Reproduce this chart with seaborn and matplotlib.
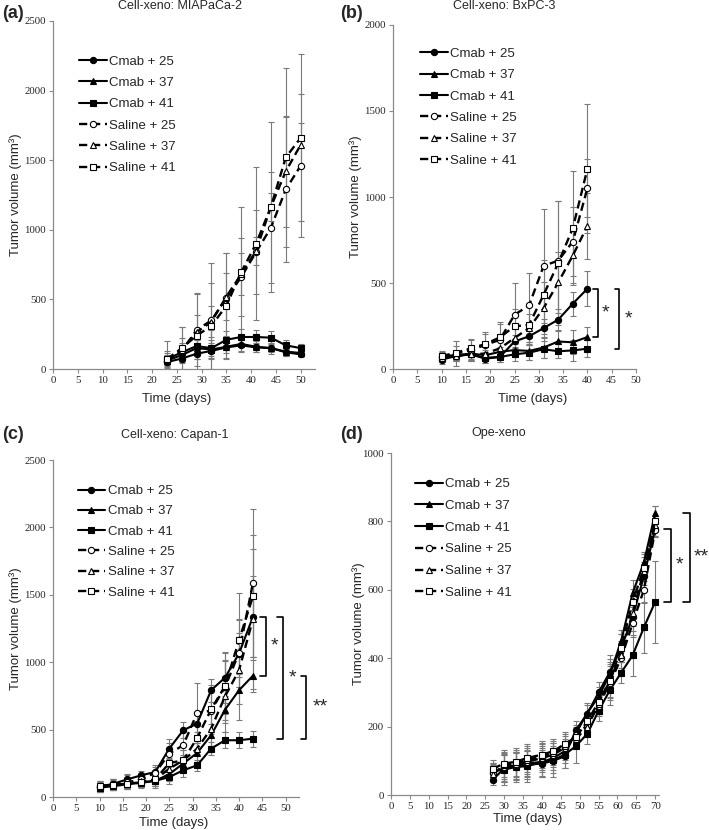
import matplotlib
matplotlib.use("Agg")
import matplotlib.pyplot as plt
import seaborn as sns

# -------------------------------------------------------
# Data
# -------------------------------------------------------
series_names = ["Cmab + 25", "Cmab + 37", "Cmab + 41",
                "Saline + 25", "Saline + 37", "Saline + 41"]

# (a) Cell-xeno: MIAPaCa-2
a_days = [23, 26, 29, 32, 35, 38, 41, 44, 47, 50]
a_cmab25 = [50, 75, 110, 130, 155, 170, 155, 150, 120, 105]
a_cmab37 = [60, 100, 150, 140, 160, 180, 160, 150, 125, 115]
a_cmab41 = [70, 120, 165, 150, 210, 230, 230, 225, 170, 150]
a_sal25 = [60, 130, 280, 350, 510, 660, 840, 1015, 1290, 1460]
a_sal37 = [65, 140, 265, 340, 520, 680, 850, 1165, 1420, 1610]
a_sal41 = [70, 150, 240, 310, 455, 695, 900, 1165, 1520, 1660]
a_cmab25_sd = [20, 30, 40, 60, 40, 40, 30, 30, 25, 20]
a_cmab37_sd = [25, 40, 60, 140, 80, 60, 40, 40, 30, 25]
a_cmab41_sd = [130, 70, 90, 60, 60, 60, 50, 50, 40, 30]
a_sal25_sd = [40, 170, 260, 270, 320, 280, 300, 400, 520, 515]
a_sal37_sd = [50, 80, 120, 110, 170, 150, 100, 100, 400, 155]
a_sal41_sd = [60, 150, 305, 450, 380, 470, 550, 610, 640, 600]

# (b) Cell-xeno: BxPC-3
b_days = [10, 13, 16, 19, 22, 25, 28, 31, 34, 37, 40]
b_cmab25 = [55, 75, 85, 60, 70, 160, 190, 238, 287, 380, 467]
b_cmab37 = [70, 80, 90, 80, 100, 110, 105, 125, 160, 155, 186]
b_cmab41 = [75, 80, 85, 65, 70, 85, 95, 115, 103, 108, 118]
b_sal25 = [70, 90, 110, 140, 170, 315, 370, 600, 630, 741, 1051]
b_sal37 = [65, 75, 85, 90, 120, 180, 238, 354, 503, 660, 832]
b_sal41 = [75, 95, 120, 145, 184, 248, 257, 432, 616, 819, 1164]
b_cmab25_sd = [25, 30, 30, 25, 30, 40, 45, 55, 60, 70, 100]
b_cmab37_sd = [20, 25, 30, 30, 30, 40, 50, 60, 60, 70, 60]
b_cmab41_sd = [20, 25, 30, 30, 30, 40, 45, 50, 40, 60, 50]
b_sal25_sd = [30, 75, 65, 75, 105, 185, 190, 330, 345, 200, 170]
b_sal37_sd = [20, 30, 40, 40, 60, 70, 80, 150, 180, 160, 190]
b_sal41_sd = [30, 40, 50, 60, 80, 100, 120, 200, 360, 330, 375]

# (c) Cell-xeno: Capan-1
c_days = [10, 13, 16, 19, 22, 25, 28, 31, 34, 37, 40, 43]
c_cmab25 = [74, 99, 131, 161, 186, 359, 495, 545, 792, 886, 1064, 1337]
c_cmab37 = [80, 90, 100, 110, 120, 170, 248, 327, 458, 648, 792, 900]
c_cmab41 = [70, 80, 95, 105, 120, 148, 198, 235, 359, 421, 421, 433]
c_sal25 = [80, 95, 110, 130, 180, 322, 384, 624, 640, 817, 1069, 1589]
c_sal37 = [75, 90, 100, 115, 130, 210, 272, 359, 507, 747, 940, 1320]
c_sal41 = [80, 90, 100, 110, 130, 252, 272, 438, 650, 824, 1163, 1490]
c_cmab25_sd = [30, 30, 40, 35, 40, 70, 60, 60, 85, 185, 150, 300]
c_cmab37_sd = [30, 30, 30, 30, 35, 50, 60, 70, 80, 100, 100, 120]
c_cmab41_sd = [30, 30, 30, 30, 40, 50, 50, 40, 50, 60, 60, 60]
c_sal25_sd = [40, 40, 50, 40, 60, 80, 100, 220, 150, 200, 250, 550]
c_sal37_sd = [30, 40, 40, 40, 50, 70, 80, 100, 150, 265, 370, 520]
c_sal41_sd = [40, 40, 40, 40, 60, 70, 80, 120, 180, 250, 350, 450]

# (d) Ope-xeno
d_days = [27, 30, 33, 36, 40, 43, 46, 49, 52, 55, 58, 61, 64, 67, 70]
d_cmab25 = [45, 78, 83, 88, 92, 100, 113, 190, 238, 300, 360, 430, 520, 640, 778]
d_cmab37 = [70, 77, 87, 92, 97, 108, 128, 180, 240, 287, 354, 451, 590, 680, 825]
d_cmab41 = [70, 74, 82, 84, 97, 102, 118, 143, 179, 246, 307, 358, 408, 490, 565]
d_sal25 = [65, 82, 87, 97, 108, 118, 138, 174, 205, 261, 328, 400, 502, 600, 775]
d_sal37 = [62, 87, 92, 102, 113, 123, 143, 164, 200, 266, 338, 410, 533, 655, 790]
d_sal41 = [77, 92, 97, 108, 118, 128, 149, 169, 215, 272, 333, 430, 563, 665, 800]
d_cmab25_sd = [15, 40, 40, 40, 40, 35, 35, 25, 25, 30, 50, 40, 40, 40, 20]
d_cmab37_sd = [25, 40, 40, 40, 40, 35, 35, 25, 30, 30, 45, 30, 40, 30, 20]
d_cmab41_sd = [25, 45, 45, 45, 45, 50, 40, 50, 30, 30, 45, 30, 60, 75, 120]
d_sal25_sd = [25, 40, 40, 40, 40, 35, 35, 25, 25, 30, 50, 40, 40, 40, 20]
d_sal37_sd = [25, 40, 40, 40, 40, 35, 35, 25, 25, 30, 50, 40, 40, 40, 20]
d_sal41_sd = [25, 40, 40, 40, 40, 35, 35, 25, 25, 30, 50, 40, 40, 40, 45]

# -------------------------------------------------------
# Style
# -------------------------------------------------------
sns.set_style("white")
plt.rcParams['font.family'] = ['Liberation Sans', 'DejaVu Sans']

markers = ["o", "^", "s", "o", "^", "s"]
grey = "#8a8a8a"


def draw_panel(ax, days, vals, sds, ymax, ystep, xmax, xstep, leg_xy, leg_space):
    # error bars first, underneath the lines
    for v, sd in zip(vals, sds):
        ax.errorbar(days, v, yerr=sd, fmt="none", ecolor="#7a7a7a",
                    elinewidth=0.8, capsize=2.5, capthick=0.8, zorder=1)
    for name, v, mk in zip(series_names, vals, markers):
        saline = name.startswith("Saline")
        sns.lineplot(x=days, y=v, ax=ax, color="black", marker=mk,
                     markersize=4.5 if mk != "^" else 5,
                     markerfacecolor="white" if saline else "black",
                     markeredgecolor="black", markeredgewidth=0.8,
                     linestyle=(0, (3.5, 2)) if saline else "-",
                     linewidth=1.7 if saline else 1.5,
                     label=name, errorbar=None, zorder=3)
    ax.set_xlim(0, xmax)
    ax.set_ylim(0, ymax)
    ax.set_xticks(range(0, int(xmax) + 1, xstep))
    ax.set_yticks(range(0, ymax + 1, ystep))
    sns.despine(ax=ax)
    for sp in ["left", "bottom"]:
        ax.spines[sp].set_color(grey)
        ax.spines[sp].set_linewidth(0.9)
    ax.tick_params(bottom=True, left=True, direction="out", length=3,
                   width=0.8, color=grey, labelsize=7.8, pad=2)
    for lbl in ax.get_xticklabels() + ax.get_yticklabels():
        lbl.set_fontfamily("Liberation Serif")
    ax.legend(loc="upper left", bbox_to_anchor=leg_xy, frameon=False,
              fontsize=9.5, handlelength=2.1, handletextpad=0.2,
              labelspacing=leg_space, borderaxespad=0, borderpad=0)
    ax.set_ylabel("Tumor volume (mm³)", fontsize=9.5)
    ax.set_xlabel("Time (days)", fontsize=9.5)


def bracket(ax, x, y_top, y_bot, tick, star, star_x):
    ax.plot([x - tick, x, x, x - tick], [y_top, y_top, y_bot, y_bot],
            color="black", lw=1.2, clip_on=False)
    ax.text(star_x, (y_top + y_bot) / 2, star, ha="center", va="center",
            fontsize=14)


fig = plt.figure(figsize=(7.09, 8.30), dpi=100)
W, H = 709, 830


def add_axes(left, top, right, bottom):
    return fig.add_axes([left / W, 1 - bottom / H, (right - left) / W,
                         (bottom - top) / H])


ax_a = add_axes(53, 21, 315, 369)
ax_b = add_axes(393, 25, 636, 369)
ax_c = add_axes(53, 460, 299, 797)
ax_d = add_axes(391, 453, 659, 795)

draw_panel(ax_a, a_days,
           [a_cmab25, a_cmab37, a_cmab41, a_sal25, a_sal37, a_sal41],
           [a_cmab25_sd, a_cmab37_sd, a_cmab41_sd, a_sal25_sd, a_sal37_sd, a_sal41_sd],
           2500, 500, 52.9, 5, (0.099, 0.901), 0.69)
draw_panel(ax_b, b_days,
           [b_cmab25, b_cmab37, b_cmab41, b_sal25, b_sal37, b_sal41],
           [b_cmab25_sd, b_cmab37_sd, b_cmab41_sd, b_sal25_sd, b_sal37_sd, b_sal41_sd],
           2000, 500, 50, 5, (0.111, 0.934), 0.69)
draw_panel(ax_c, c_days,
           [c_cmab25, c_cmab37, c_cmab41, c_sal25, c_sal37, c_sal41],
           [c_cmab25_sd, c_cmab37_sd, c_cmab41_sd, c_sal25_sd, c_sal37_sd, c_sal41_sd],
           2500, 500, 52.9, 5, (0.10, 0.926), 0.61)
draw_panel(ax_d, d_days,
           [d_cmab25, d_cmab37, d_cmab41, d_sal25, d_sal37, d_sal41],
           [d_cmab25_sd, d_cmab37_sd, d_cmab41_sd, d_sal25_sd, d_sal37_sd, d_sal41_sd],
           1000, 200, 71, 5, (0.09, 0.927), 0.72)

# axis label positions
ax_a.yaxis.set_label_coords(-0.118, 0.5)
ax_a.xaxis.set_label_coords(0.473, -0.068)
ax_b.yaxis.set_label_coords(-0.127, 0.5)
ax_b.xaxis.set_label_coords(0.576, -0.069)
ax_c.yaxis.set_label_coords(-0.126, 0.5)
ax_c.xaxis.set_label_coords(0.49, -0.058)
ax_d.yaxis.set_label_coords(-0.097, 0.5)
ax_d.xaxis.set_label_coords(0.51, -0.053)

# significance brackets
bracket(ax_b, 42.2, b_cmab25[-1], b_cmab37[-1], 1.0, "*", 43.8)
bracket(ax_b, 46.6, b_cmab25[-1], b_cmab41[-1], 1.0, "*", 48.4)
bracket(ax_c, 45.9, c_cmab25[-1], c_cmab37[-1], 1.3, "*", 47.7)
bracket(ax_c, 49.5, c_cmab25[-1], c_cmab41[-1], 1.3, "*", 51.4)
bracket(ax_c, 54.3, c_cmab37[-1], c_cmab41[-1], 1.0, "**", 57.4)
bracket(ax_d, 74.2, d_cmab25[-1], d_cmab41[-1], 1.8, "*", 76.4)
bracket(ax_d, 79.1, d_cmab37[-1], d_cmab41[-1], 1.8, "**", 82.2)

# titles and panel letters
titles = ["Cell-xeno: MIAPaCa-2", "Cell-xeno: BxPC-3", "Cell-xeno: Capan-1", "Ope-xeno"]
title_pos = [(180, 6), (504, 6), (175, 435), (499, 433)]
letters = ["(a)", "(b)", "(c)", "(d)"]
letter_pos = [(2, 13), (340, 13), (2, 434), (340, 434)]
for t, (x, y) in zip(titles, title_pos):
    fig.text(x / W, 1 - y / H, t, ha="center", va="center", fontsize=9)
for t, (x, y) in zip(letters, letter_pos):
    fig.text(x / W, 1 - y / H, t, ha="left", va="center", fontsize=13,
             fontweight="bold")

plt.savefig("out.png", dpi=100)
plt.close()
